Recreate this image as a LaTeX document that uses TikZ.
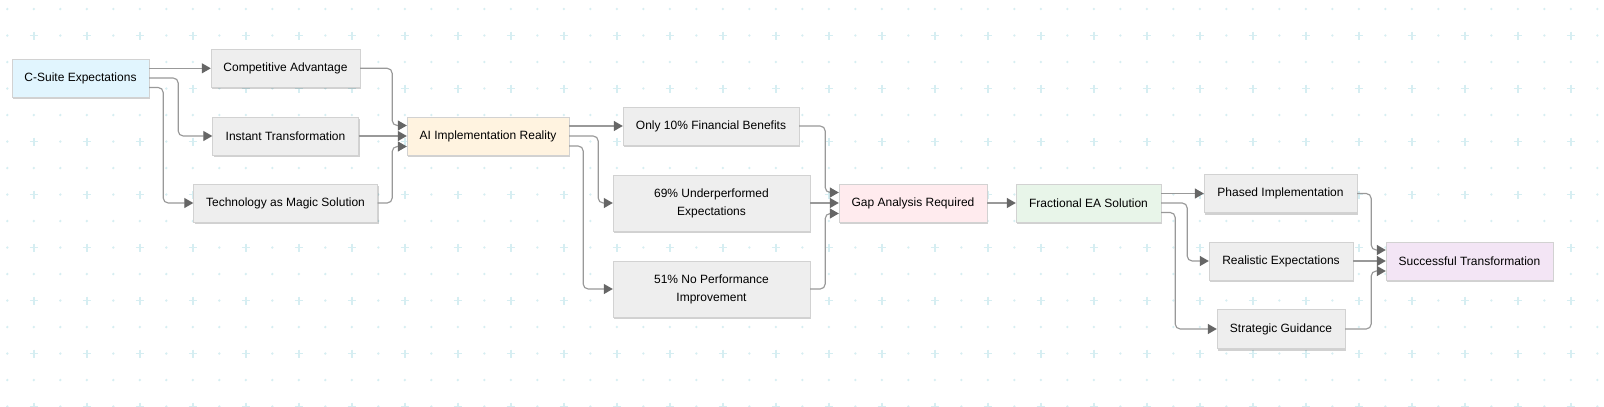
\documentclass[tikz,border=0pt]{standalone}
\usepackage{fontspec}
\setmainfont{Liberation Sans}
\usetikzlibrary{arrows.meta,shadows}
\definecolor{dotCyan}{HTML}{D6EEF2}
\definecolor{boxGray}{HTML}{EEEEEE}
\definecolor{boxLine}{HTML}{D2D2D2}
\definecolor{cardBlue}{HTML}{E1F5FE}
\definecolor{cardAmber}{HTML}{FFF3E0}
\definecolor{cardRose}{HTML}{FFEBEE}
\definecolor{cardGreen}{HTML}{E8F5E9}
\definecolor{cardLilac}{HTML}{F3E5F5}
\definecolor{wireGray}{HTML}{999999}
\definecolor{tipGray}{HTML}{666666}

\begin{document}
\begin{tikzpicture}[x=1pt, y=-1pt,
    box/.style={draw=boxLine, fill=boxGray, minimum height=38pt, inner sep=2pt, align=center,
      font=\fontsize{12}{18}\selectfont,
      drop shadow={shadow xshift=1pt, shadow yshift=-2pt, fill=black, opacity=0.18}},
    wire/.style={draw=wireGray, line width=1.15pt, rounded corners=5pt,
      -{Triangle[length=9pt, width=10pt, color=tipGray]}}]
        % page and dotted grid
        \fill[white] (0,0) rectangle (1604,407);
        \useasboundingbox (0,0) rectangle (1604,407);
        \foreach \i in {0,...,60}
          \foreach \j in {0,...,15}
            \fill[dotCyan] (7.3+26.5*\i, 9+26.5*\j) circle[radius=1.3];
        \foreach \i in {1,3,...,59}
          \foreach \j in {1,3,...,15}
            \draw[dotCyan, line width=1.8] (3.3+26.5*\i, 9+26.5*\j) -- ++(8,0)
              (7.3+26.5*\i, 5+26.5*\j) -- ++(0,8);

        \node[box, fill=cardBlue, minimum width=137pt] (cs) at (80.5,78) {C-Suite Expectations};
        \node[box, minimum width=149pt] (ca) at (285.5,68.3) {Competitive Advantage};
        \node[box, minimum width=146pt] (it) at (285.5,136) {Instant Transformation};
        \node[box, minimum width=184pt] (tm) at (285.5,203) {Technology as Magic Solution};
        \node[box, fill=cardAmber, minimum width=162pt] (ai) at (488,136) {AI Implementation Reality};
        \node[box, minimum width=176pt] (fb) at (711,126) {Only 10\% Financial Benefits};
        \node[box, minimum width=197pt, minimum height=56pt] (up) at (711.5,203) {69\% Underperformed\\Expectations};
        \node[box, minimum width=197pt, minimum height=56pt] (np) at (711.5,289) {51\% No Performance\\Improvement};
        \node[box, fill=cardRose, minimum width=148pt] (gap) at (913,203) {Gap Analysis Required};
        \node[box, fill=cardGreen, minimum width=145pt] (ea) at (1088.5,203) {Fractional EA Solution};
        \node[box, minimum width=153pt] (pi) at (1280.5,193.5) {Phased Implementation};
        \node[box, minimum width=144pt] (re) at (1281,261) {Realistic Expectations};
        \node[box, minimum width=128pt, minimum height=39pt] (sg) at (1281,329) {Strategic Guidance};
        \node[box, fill=cardLilac, minimum width=167pt] (st) at (1469.5,261) {Successful Transformation};

        % expectations
        \draw[wire] ([yshift=9.7pt]cs.east) -- (ca.west);
        \draw[wire] (cs.east) -- ++(29,0) |- (it.west);
        \draw[wire] ([yshift=-9.5pt]cs.east) -- ++(14,0) |- (tm.west);
        \draw[wire] (ca.east) -- ++(32,0) |- ([yshift=10.5pt]ai.west);
        \draw[wire] (it.east) -- (ai.west);
        \draw[wire] (tm.east) -- ++(14.5,0) |- ([yshift=-10.5pt]ai.west);
        % reality
        \draw[wire] ([yshift=10pt]ai.east) -- (fb.west);
        \draw[wire] (ai.east) -- ++(29,0) |- (up.west);
        \draw[wire] ([yshift=-10pt]ai.east) -- ++(14,0) |- (np.west);
        \draw[wire] (fb.east) -- ++(26,0) |- ([yshift=10.5pt]gap.west);
        \draw[wire] (up.east) -- (gap.west);
        \draw[wire] (np.east) -- ++(15,0) |- ([yshift=-10.5pt]gap.west);
        \draw[wire] (gap.east) -- (ea.west);
        % solution
        \draw[wire] ([yshift=9.5pt]ea.east) -- (pi.west);
        \draw[wire] (ea.east) -- ++(26,0) |- (re.west);
        \draw[wire] ([yshift=-9.5pt]ea.east) -- ++(14,0) |- (sg.west);
        \draw[wire] (pi.east) -- ++(14,0) |- ([yshift=11pt]st.west);
        \draw[wire] (re.east) -- (st.west);
        \draw[wire] (sg.east) -- ++(26,0) |- ([yshift=-10pt]st.west);
      \end{tikzpicture}
\end{document}
